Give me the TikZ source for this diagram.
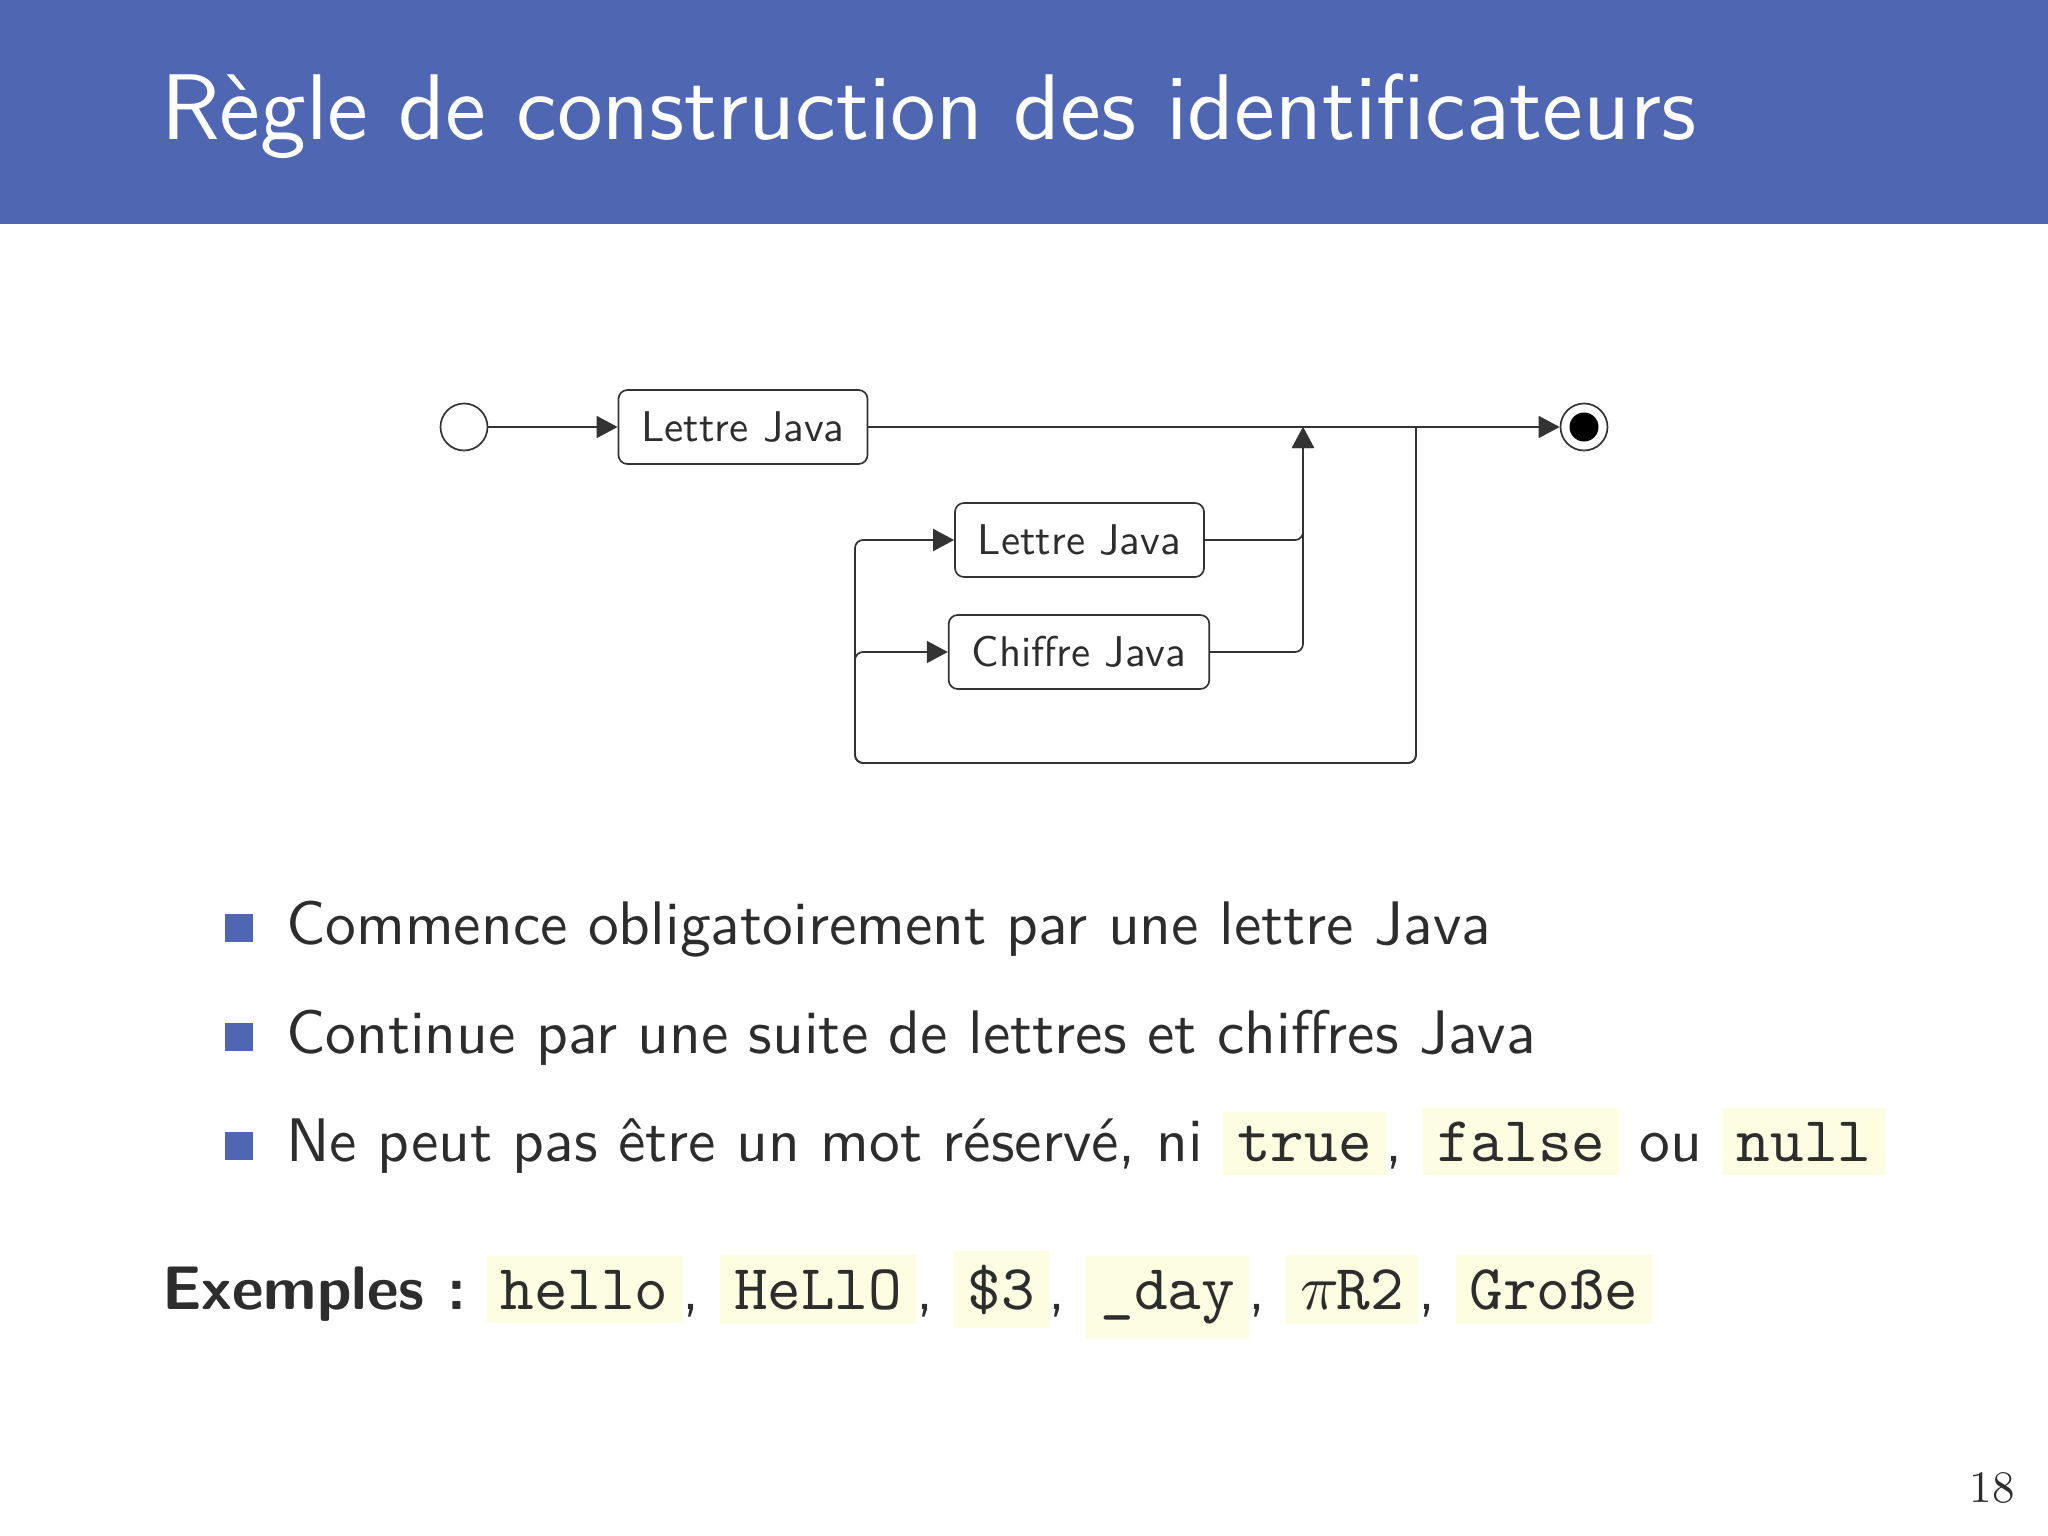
\documentclass[tikz,border=0pt]{standalone}
\usepackage{fontspec}
\setmainfont{lmsans10-regular}[Extension=.otf, BoldFont=lmsans10-bold]
\newfontfamily\titlefont{lmsans12-regular}[Extension=.otf]
\newfontfamily\codefont{lmmono10-regular}[Extension=.otf]
\newfontfamily\numfont{lmroman10-regular}[Extension=.otf]
\newfontfamily\mathfnt{latinmodern-math}[Extension=.otf]
\usetikzlibrary{arrows.meta}
\definecolor{headblue}{HTML}{4F67B2}
\definecolor{textgray}{HTML}{2D2D2D}
\definecolor{linegray}{HTML}{333333}
\definecolor{codebg}{HTML}{FDFDE2}
\setlength{\fboxsep}{14pt}
\newcommand{\code}[1]{\colorbox{codebg}{\codefont\fontsize{64}{75}\selectfont #1}}
\tikzset{
  conn/.style={draw=linegray, line width=1.7pt},
  arr/.style={conn, -{Triangle[length=21pt,width=22pt]}},
  statebox/.style={draw=linegray, line width=1.7pt, rounded corners=9pt,
    minimum height=74pt, inner xsep=23pt, text=textgray,
    font=\fontsize{43}{52}\selectfont},
  bodytext/.style={anchor=base west, inner sep=0pt, text=textgray,
    font=\fontsize{61.5}{74}\selectfont},
  bulletsq/.style={fill=headblue, inner sep=0pt, minimum size=28pt, anchor=south west},
}
\begin{document}
\begin{tikzpicture}[x=1pt,y=-1pt]
\useasboundingbox (0,0) rectangle (2048,1536);
\fill[headblue] (0,0) rectangle (2048,224);
\node[anchor=base west, inner sep=0pt, text=white, font=\titlefont\fontsize{93.3}{110}\selectfont] (title) at (161,140) {Règle de construction des identificateurs};

% diagram
\node[circle, draw=linegray, line width=1.7pt, fill=white, minimum size=47pt, inner sep=0pt] (start) at (464,427) {};
\node[statebox] (l1) at (743,427) {Lettre Java};
\node[circle, draw=linegray, line width=1.7pt, fill=white, minimum size=47pt, inner sep=0pt] (end) at (1584,427) {};
\node[circle, fill=black, minimum size=29pt, inner sep=0pt] (endin) at (end) {};
\node[statebox] (l2) at (1079.5,540) {Lettre Java};
\node[statebox] (c3) at (1079,652) {Chiffre Java};
\coordinate (j1) at (1303,427);
\coordinate (j2) at (1416,427);
\coordinate (lb) at (855,763);

\draw[arr] (start) -- (l1);
\draw[arr] (l1) -- (end);
\draw[arr, rounded corners=8pt] (l2.east) -| (j1);
\draw[arr, rounded corners=8pt] (c3.east) -| (j1);
\draw[arr, rounded corners=8pt] (j2) |- (lb) |- (l2.west);
\draw[arr, rounded corners=8pt] (j2) |- (lb) |- (c3.west);

% bullets
\node[bulletsq] (s1) at (225,942) {};
\node[bulletsq] (s2) at (225,1051) {};
\node[bulletsq] (s3) at (225,1160) {};
\node[bodytext] (t1) at (286,944) {Commence obligatoirement par une lettre Java};
\node[bodytext] (t2) at (286,1053) {Continue par une suite de lettres et chiffres Java};
\node[bodytext] (t3) at (286,1161) {Ne peut pas être un mot réservé, ni \code{true}, \code{false} ou \code{null}};

\node[bodytext] (ex) at (162,1309) {\textbf{Exemples :}\hspace{-7pt} \code{hello}, \code{HeLlO}, \code{\$3}, \code{\_day}, \code{{\mathfnt 𝜋}R2}, \code{Große}};

\node[anchor=base east, inner sep=0pt, text=textgray, font=\numfont\fontsize{45}{54}\selectfont] (num) at (2015,1502) {18};
\end{tikzpicture}
\end{document}
